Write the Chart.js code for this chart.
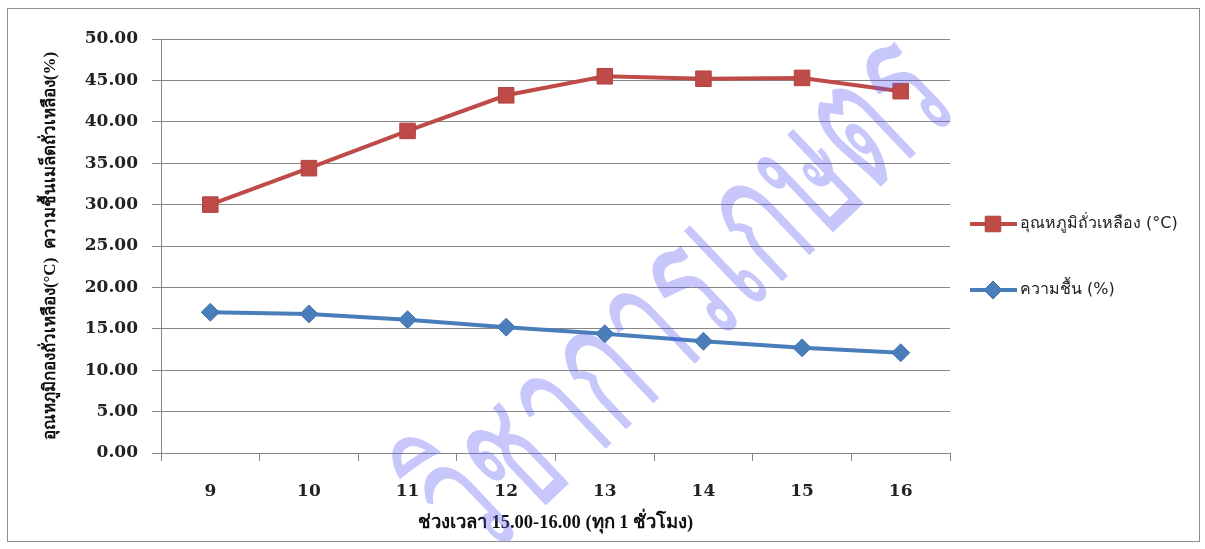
<!DOCTYPE html>
<html>
<head>
<meta charset="utf-8">
<script src="https://cdn.jsdelivr.net/npm/chart.js@4.4.1/dist/chart.umd.min.js"></script>
<style>
  html, body { margin: 0; padding: 0; background: #fff; }
  #wrap { position: relative; width: 1205px; height: 549px; }
  #frame { position: absolute; left: 7px; top: 8px; width: 1191px; height: 532px; border: 1px solid #8e8e8e; pointer-events: none; }
</style>
</head>
<body>
<div id="wrap">
  <canvas id="chart" width="1205" height="549"></canvas>
  <div id="frame"></div>
</div>
<script>
const hours = ['9', '10', '11', '12', '13', '14', '15', '16'];
const tempValues = [30.0, 34.4, 38.9, 43.2, 45.5, 45.2, 45.3, 43.7];
const humidValues = [17.0, 16.8, 16.1, 15.2, 14.4, 13.5, 12.7, 12.1];
const tempLabel = 'อุณหภูมิถั่วเหลือง (°C)';
const humidLabel = 'ความชื้น (%)';
const yTitle = 'อุณหภูมิกองถั่วเหลือง(°C)  ความชื้นเมล็ดถั่วเหลือง(%)';
const xTitle = 'ช่วงเวลา 15.00-16.00 (ทุก 1 ชั่วโมง)';
const watermark = 'วิชาการเกษตร';

const serif = "'DejaVu Serif', 'Liberation Serif', serif";
const thaiSerif = "'Liberation Serif', serif";

// legend drawn at the right of the plot, line + marker like Excel
const sideLegend = {
  id: 'sideLegend',
  afterDraw(chart) {
    const ctx = chart.ctx;
    const area = chart.chartArea;
    const items = chart.data.datasets;
    const x0 = area.right + 20;
    const ys = [area.top + 185, area.top + 251];
    ctx.save();
    items.forEach((ds, i) => {
      const y = ys[i];
      ctx.strokeStyle = ds.borderColor;
      ctx.lineWidth = 4;
      ctx.beginPath();
      ctx.moveTo(x0, y);
      ctx.lineTo(x0 + 47, y);
      ctx.stroke();
      ctx.fillStyle = ds.pointBackgroundColor;
      ctx.strokeStyle = ds.pointBorderColor;
      ctx.lineWidth = 1;
      Chart.helpers.drawPoint(ctx, {
        pointStyle: ds.pointStyle,
        radius: ds.pointRadius,
        borderWidth: 1
      }, x0 + 23, y);
      ctx.font = "16px 'DejaVu Sans', sans-serif";
      ctx.fillStyle = '#222';
      ctx.textBaseline = 'middle';
      ctx.fillText(ds.label, x0 + 50, y);
    });
    ctx.restore();
  }
};

const mark = {
  id: 'mark',
  afterDraw(chart) {
    const ctx = chart.ctx;
    ctx.save();
    ctx.translate(686, 300);
    ctx.rotate(-0.76);
    ctx.font = "100px 'Noto Sans', sans-serif";
    const w = ctx.measureText(watermark).width;
    const s = 665 / w;
    ctx.scale(s, s * 1.75);
    ctx.fillStyle = 'rgba(90, 90, 245, 0.34)';
    ctx.textAlign = 'center';
    ctx.textBaseline = 'middle';
    ctx.fillText(watermark, 0, 0);
    ctx.restore();
  }
};

new Chart(document.getElementById('chart'), {
  type: 'line',
  data: {
    labels: hours,
    datasets: [{
      label: tempLabel,
      data: tempValues,
      borderColor: '#BE4B48',
      backgroundColor: '#BE4B48',
      pointBackgroundColor: '#BE4B48',
      pointBorderColor: '#B04542',
      pointStyle: 'rect',
      pointRadius: 11,
      pointBorderWidth: 1,
      borderWidth: 4,
      tension: 0
    }, {
      label: humidLabel,
      data: humidValues,
      borderColor: '#4A7EBB',
      backgroundColor: '#4A7EBB',
      pointBackgroundColor: '#4A7EBB',
      pointBorderColor: '#4373AE',
      pointStyle: 'rectRot',
      pointRadius: 9,
      pointBorderWidth: 1,
      borderWidth: 4,
      tension: 0
    }]
  },
  options: {
    responsive: false,
    animation: false,
    layout: { padding: { left: 8, right: 255, top: 39, bottom: 8 } },
    plugins: {
      legend: { display: false },
      tooltip: { enabled: false }
    },
    scales: {
      x: {
        offset: true,
        afterFit: s => { s.height = 88; },
        grid: { offset: true, drawOnChartArea: false, tickLength: 8, color: '#868686' },
        border: { color: '#868686', width: 1 },
        ticks: { color: '#222', padding: 20, font: { family: serif, size: 17, weight: 'bold' } },
        title: { display: true, text: xTitle, color: '#111', padding: { top: 0, bottom: 7 }, font: { family: thaiSerif, size: 18.5, weight: 'bold' } }
      },
      y: {
        min: 0,
        max: 50,
        afterFit: s => { s.width = 153; },
        grid: { color: '#868686', tickLength: 9 },
        border: { color: '#868686', width: 1 },
        ticks: {
          stepSize: 5,
          color: '#222',
          padding: 14,
          font: { family: serif, size: 17, weight: 'bold' },
          callback: v => v.toFixed(2)
        },
        title: { display: true, text: yTitle, color: '#111', padding: { top: 32, bottom: 0 }, font: { family: thaiSerif, size: 17, weight: 'bold' } }
      }
    }
  },
  plugins: [sideLegend, mark]
});
</script>
</body>
</html>
